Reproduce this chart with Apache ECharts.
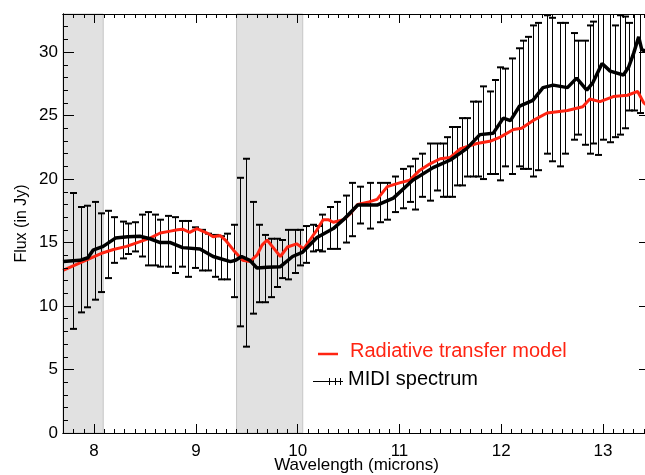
<!DOCTYPE html>
<html>
<head>
<meta charset="utf-8">
<script src="https://cdn.jsdelivr.net/npm/echarts@6/dist/echarts.min.js"></script>
<style>
html,body{margin:0;padding:0;background:#fff}
#chart{width:645px;height:475px}
</style>
</head>
<body>
<div id="chart"></div>
<script>
// 轴范围
const X_MIN = 7.695, X_MAX = 13.461;
const Y_MIN = 0, Y_MAX = 33;

// 刻度标签
const xTickLabels = [8, 9, 10, 11, 12, 13];
const yTickLabels = [0, 5, 10, 15, 20, 25, 30];

// 灰色波段 (微米)
const bandStart = [7.695, 9.40];
const bandEnd   = [8.09, 10.05];

// 辐射转移模型 (红线)
const modelWave = [7.695,8.09,8.19,8.32,8.55,8.65,8.75,8.82,8.87,8.94,
  9.01,9.11,9.17,9.24,9.29,9.37,9.46,9.53,9.60,9.65,
  9.70,9.76,9.83,9.90,9.99,10.06,10.12,10.19,10.25,10.30,
  10.35,10.45,10.52,10.59,10.70,10.78,10.88,11.00,11.10,11.20,
  11.30,11.40,11.50,11.60,11.76,11.90,11.99,12.12,12.20,12.31,
  12.45,12.55,12.65,12.80,12.87,12.97,13.10,13.24,13.34,13.40,13.461];
const modelFlux = [12.8,14.2,14.45,14.7,15.35,15.75,15.9,16.0,16.05,15.8,
  16.1,15.75,15.45,15.55,15.2,14.4,13.6,13.5,14.0,14.8,
  15.2,14.6,13.9,14.65,14.9,14.5,15.2,16.0,16.8,16.8,
  16.6,16.8,17.3,18.0,18.2,18.4,19.4,19.7,19.9,20.7,
  21.2,21.6,21.7,22.4,22.8,23.0,23.3,23.9,24.0,24.6,
  25.2,25.3,25.4,25.7,26.3,26.1,26.5,26.6,26.9,26.0,25.6];

// MIDI 光谱 (黑线)
const midiWave = [7.695,7.86,7.94,7.99,8.09,8.21,8.33,8.45,8.55,8.65,
  8.75,8.87,9.04,9.17,9.34,9.39,9.45,9.53,9.60,9.70,
  9.83,9.95,10.05,10.19,10.35,10.45,10.59,10.78,10.94,11.13,
  11.33,11.50,11.66,11.79,11.92,12.02,12.09,12.18,12.31,12.41,
  12.51,12.65,12.74,12.84,12.90,12.99,13.07,13.20,13.25,13.30,
  13.35,13.38,13.461];
const midiFlux = [13.5,13.6,13.8,14.4,14.7,15.35,15.45,15.5,15.3,15.0,
  15.0,14.6,14.5,13.9,13.5,13.6,13.9,13.6,13.0,13.05,
  13.1,13.9,14.25,15.4,16.1,16.8,17.95,17.95,18.5,19.9,
  20.9,21.5,22.4,23.5,23.6,24.8,24.6,25.75,26.2,27.2,
  27.4,27.2,27.95,27.0,27.6,29.1,28.5,28.2,28.8,29.9,
  31.2,30.2,29.9];

// 误差棒: 波长, 中心值, 半长
const errWave = [7.79,7.87,7.93,8.01,8.07,8.14,8.20,8.28,8.33,8.40,
  8.47,8.53,8.60,8.65,8.73,8.80,8.86,8.92,8.99,9.06,
  9.12,9.19,9.25,9.31,9.37,9.43,9.49,9.56,9.62,9.68,
  9.74,9.80,9.85,9.91,9.97,10.02,10.08,10.15,10.20,10.24,
  10.32,10.39,10.47,10.53,10.61,10.71,10.81,10.88,10.96,11.03,
  11.10,11.15,11.22,11.30,11.37,11.43,11.47,11.52,11.57,11.61,
  11.66,11.72,11.77,11.82,11.89,11.94,11.99,12.04,12.11,12.17,
  12.21,12.26,12.31,12.36,12.45,12.50,12.58,12.63,12.71,12.75,
  12.82,12.87,12.90,12.95,13.00,13.07,13.12,13.17,13.22,13.25,
  13.30,13.36];
const errFlux = [13.55,13.65,13.9,14.35,14.2,14.85,15.2,15.2,15.3,15.45,
  15.55,15.3,15.2,14.95,15.1,14.8,14.9,14.5,14.6,14.4,
  14.25,13.95,13.8,13.9,13.55,14.25,14.2,13.8,13.35,12.95,
  13.0,13.4,13.7,14.05,14.3,14.6,14.85,15.35,15.35,15.75,
  16.15,16.35,16.85,17.6,17.95,17.9,18.15,18.25,18.8,19.25,
  19.6,19.6,20.3,20.55,20.95,20.7,20.95,21.35,21.8,22.15,
  22.5,23.15,23.15,23.65,23.65,24.1,24.35,24.85,24.95,25.65,
  25.85,26.0,26.15,26.5,27.45,27.05,26.65,27.15,27.3,27.2,
  26.8,27.05,27.6,28.3,29.0,28.5,27.7,28.2,28.4,28.85,
  29.9,30.5];
const errSigma = [5.35,4.15,4.0,3.85,3.1,2.65,1.8,1.45,1.2,1.15,
  1.65,2.1,2.0,1.85,2.0,2.2,1.8,2.2,1.6,1.6,
  1.45,1.65,1.7,1.8,2.85,5.85,7.4,4.4,3.05,2.65,
  2.3,1.9,1.5,1.95,1.7,1.4,1.45,1.05,0.95,1.45,
  1.65,1.85,1.85,2.1,1.45,1.8,1.55,1.45,1.4,1.55,
  1.4,2.0,1.7,2.25,1.85,2.1,2.35,2.75,2.3,2.65,
  2.3,2.95,2.95,3.65,3.25,3.7,4.45,3.85,4.55,4.65,
  5.05,5.2,5.95,5.8,5.45,5.65,5.65,5.15,4.2,3.7,
  4.1,5.05,4.8,6.4,5.9,5.6,4.4,4.7,4.4,3.45,
  4.5,5.3];

const FONT = "'Liberation Sans', Arial, Helvetica, sans-serif";

let myChart = echarts.init(document.getElementById('chart'), null, {renderer: 'canvas'});

// 刻度位置
let xMinor = [];
for (let v = 77; v <= 134; v++) xMinor.push(v / 10);
let yMinor = [];
for (let v = 0; v <= 33; v++) yMinor.push(v);

let modelData = modelWave.map((w, i) => [w, modelFlux[i]]);
let midiData = midiWave.map((w, i) => [w, midiFlux[i]]);
let errData = errWave.map((w, i) => [w, errFlux[i] - errSigma[i], errFlux[i] + errSigma[i]]);
let bandData = bandStart.map((s, i) => [{xAxis: s}, {xAxis: bandEnd[i]}]);

// 误差棒 + 端帽
function renderErr(params, api) {
  let w = api.value(0);
  let lo = api.coord([w, api.value(1)]);
  let hi = api.coord([w, api.value(2)]);
  let x = Math.round(lo[0]) + 0.5;
  let cap = 3.5;
  return {
    type: 'group',
    children: [
      {type: 'line', shape: {x1: x, y1: lo[1], x2: x, y2: hi[1]}, style: {stroke: '#000', lineWidth: 1}},
      {type: 'line', shape: {x1: x - cap, y1: lo[1], x2: x + cap, y2: lo[1]}, style: {stroke: '#000', lineWidth: 2}},
      {type: 'line', shape: {x1: x - cap, y1: hi[1], x2: x + cap, y2: hi[1]}, style: {stroke: '#000', lineWidth: 2}}
    ]
  };
}

function xAx(pos, vals, len, extra) {
  return Object.assign({
    type: 'value', position: pos, min: X_MIN, max: X_MAX, z: 10,
    axisLine: {show: true, onZero: false, lineStyle: {color: '#000', width: 1}},
    axisTick: {show: true, inside: true, length: len, customValues: vals, lineStyle: {color: '#000', width: 1}},
    axisLabel: {show: false},
    splitLine: {show: false}
  }, extra || {});
}
function yAx(pos, vals, len, extra) {
  return Object.assign({
    type: 'value', position: pos, min: Y_MIN, max: Y_MAX, z: 10,
    axisLine: {show: true, onZero: false, lineStyle: {color: '#000', width: 1}},
    axisTick: {show: true, inside: true, length: len, customValues: vals, lineStyle: {color: '#000', width: 1}},
    axisLabel: {show: false},
    splitLine: {show: false}
  }, extra || {});
}

let option = {
  backgroundColor: '#fff',
  animation: false,
  grid: {left: 63, top: 14, width: 587, height: 419, containLabel: false, outerBoundsMode: 'none'},
  xAxis: [
    xAx('bottom', xTickLabels, 9, {
      name: 'Wavelength (microns)', nameLocation: 'middle', nameGap: 24, nameMoveOverlap: false,
      nameTextStyle: {color: '#000', fontSize: 17, fontFamily: FONT},
      axisLabel: {show: true, customValues: xTickLabels, margin: 10, color: '#000', fontSize: 17, fontFamily: FONT}
    }),
    xAx('bottom', xMinor, 4),
    xAx('top', xTickLabels, 9),
    xAx('top', xMinor, 4)
  ],
  yAxis: [
    yAx('left', yTickLabels, 11, {
      name: 'Flux (in Jy)', nameLocation: 'middle', nameGap: 33, nameMoveOverlap: false,
      nameTextStyle: {color: '#000', fontSize: 16, fontFamily: FONT},
      axisLabel: {show: true, customValues: yTickLabels, margin: 5, color: '#000', fontSize: 17, fontFamily: FONT}
    }),
    yAx('left', yMinor, 5),
    yAx('right', yTickLabels, 11),
    yAx('right', yMinor, 5)
  ],
  series: [
    {
      name: 'bands', type: 'line', data: [], silent: true,
      markArea: {
        silent: true,
        itemStyle: {color: '#e1e1e1', borderColor: '#c6c6c6', borderWidth: 1},
        data: bandData
      }
    },
    {
      name: 'errors', type: 'custom', renderItem: renderErr, data: errData, clip: true,
      encode: {x: 0, y: [1, 2]}, silent: true
    },
    {
      name: 'Radiative transfer model', type: 'line', data: modelData, showSymbol: false,
      lineStyle: {color: '#ff2412', width: 3}, clip: true, silent: true
    },
    {
      name: 'MIDI spectrum', type: 'line', data: midiData, showSymbol: false,
      lineStyle: {color: '#000', width: 3.5}, clip: true, silent: true
    }
  ],
  // 图例
  graphic: [
    {type: 'line', shape: {x1: 318, y1: 354, x2: 338, y2: 354}, style: {stroke: '#ff2412', lineWidth: 2.5}},
    {type: 'text', left: 350, top: 341, style: {text: 'Radiative transfer model', fill: '#ff2412', font: '20px ' + FONT}},
    {type: 'line', shape: {x1: 313, y1: 381.5, x2: 343, y2: 381.5}, style: {stroke: '#000', lineWidth: 1}},
    {type: 'line', shape: {x1: 329.5, y1: 378, x2: 329.5, y2: 385}, style: {stroke: '#000', lineWidth: 1}},
    {type: 'line', shape: {x1: 335.5, y1: 378, x2: 335.5, y2: 385}, style: {stroke: '#000', lineWidth: 1}},
    {type: 'line', shape: {x1: 340.5, y1: 378, x2: 340.5, y2: 385}, style: {stroke: '#000', lineWidth: 1}},
    {type: 'text', left: 348, top: 369, style: {text: 'MIDI spectrum', fill: '#000', font: '20px ' + FONT}}
  ]
};

myChart.setOption(option);
window.addEventListener('resize', function() {
  myChart.resize();
});
</script>
</body>
</html>
